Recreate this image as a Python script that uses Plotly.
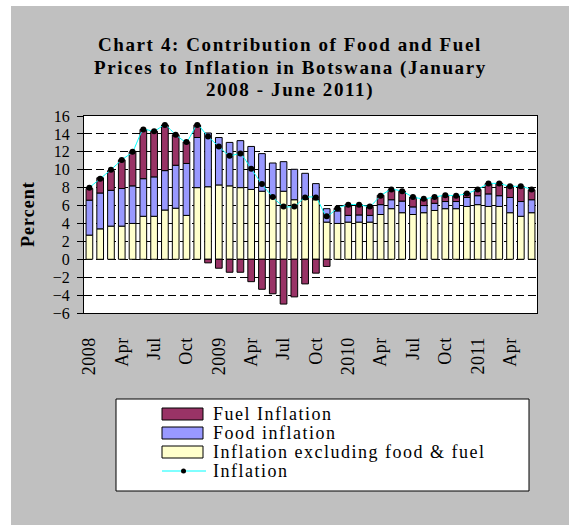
import plotly.graph_objects as go

# Monthly contributions (percentage points), January 2008 - June 2011
months = [f"{m} {y}" for y in (2008, 2009, 2010, 2011)
          for m in ["Jan", "Feb", "Mar", "Apr", "May", "Jun",
                    "Jul", "Aug", "Sep", "Oct", "Nov", "Dec"]][:42]

core = [2.7, 3.4, 3.7, 3.7, 4.0, 4.8, 4.8, 5.5, 5.7, 4.9, 8.0, 8.1,
        8.3, 8.2, 8.0, 7.8, 7.6, 6.95, 7.6, 6.65, 6.7, 6.65, 4.15, 4.0,
        4.15, 4.15, 4.15, 5.0, 5.65, 5.2, 5.0, 5.2, 5.45, 5.65, 5.65, 5.9,
        6.1, 5.9, 5.9, 5.2, 4.8, 5.2]

food = [3.9, 4.0, 4.0, 4.2, 4.2, 4.2, 4.4, 4.4, 4.8, 5.8, 5.6, 6.0,
        5.3, 4.85, 5.25, 4.8, 4.2, 3.8, 3.3, 3.4, 2.9, 1.8, 1.5, 1.4,
        0.75, 0.8, 0.75, 1.1, 1.0, 1.3, 0.85, 0.8, 0.8, 0.8, 0.8, 1.0,
        1.0, 1.4, 1.2, 1.7, 1.65, 1.45]

fuel = [1.3, 1.7, 2.2, 3.2, 3.8, 5.5, 5.1, 5.1, 3.4, 2.4, 1.4, -0.4,
        -1.0, -1.45, -1.45, -2.5, -3.35, -3.85, -5.0, -4.2, -2.75, -1.55, -0.8, 0.3,
        1.2, 1.15, 1.0, 1.05, 1.1, 1.1, 1.1, 0.75, 0.7, 0.7, 0.65, 0.5,
        0.7, 1.15, 1.4, 1.3, 1.7, 1.1]

inflation = [8.0, 9.0, 10.0, 11.1, 12.0, 14.5, 14.3, 15.0, 13.9, 13.1, 15.0, 13.7,
             12.6, 11.55, 11.8, 10.1, 8.4, 6.95, 5.9, 5.9, 6.9, 6.9, 4.8, 5.7,
             6.1, 6.1, 5.9, 7.1, 7.8, 7.6, 6.95, 6.75, 6.95, 7.15, 7.1, 7.35,
             7.8, 8.45, 8.45, 8.15, 8.15, 7.8]

tick_months = months[::3]
tick_text = ["2008", "Apr", "Jul", "Oct", "2009", "Apr", "Jul", "Oct",
             "2010", "Apr", "Jul", "Oct", "2011", "Apr"]

title_lines = ["Chart 4: Contribution of Food and Fuel",
               "Prices to Inflation in Botswana (January",
               "2008 - June 2011)"]

series_names = ["Fuel Inflation", "Food inflation",
                "Inflation excluding food & fuel", "Inflation"]
fuel_col, food_col, core_col = "#993366", "#9999FF", "#FFFFCC"
line_col = "#00FFFF"

W, H = 569, 525
L, R, T, B = 84, 32, 116, 212
PW, PH = W - L - R, H - T - B
YMIN, YMAX = -6, 16
SERIF = "Liberation Serif, Times New Roman, serif"


def px_x(x):
    return (x - L) / PW


def px_y(y):
    return (H - B - y) / PH


def spaced(text, px):
    return f'<span style="letter-spacing:{px}px">{text}</span>'


fig = go.Figure()
bar_line = dict(color="black", width=1)
fig.add_bar(x=months, y=core, name=series_names[2],
            marker=dict(color=core_col, line=bar_line))
fig.add_bar(x=months, y=food, name=series_names[1],
            marker=dict(color=food_col, line=bar_line))
fig.add_bar(x=months, y=fuel, name=series_names[0],
            marker=dict(color=fuel_col, line=bar_line))
fig.add_scatter(x=months, y=inflation, name=series_names[3], mode="lines+markers",
                line=dict(color=line_col, width=1, shape="spline", smoothing=0.5),
                marker=dict(color="black", size=6))

# Category axis crossing at zero: solid line with boundary ticks
zero_pos = (0 - YMIN) / (YMAX - YMIN)
fig.update_layout(
    xaxis2=dict(overlaying="x", anchor="free", position=zero_pos, side="bottom",
                range=[-0.5, len(months) - 0.5], showgrid=False, zeroline=False,
                showline=True, linecolor="black", linewidth=1,
                ticks="outside", ticklen=6, tickcolor="black", tickwidth=1,
                tickvals=[i - 0.5 for i in range(len(months) + 1)],
                showticklabels=False),
)

fig.update_layout(
    width=W, height=H,
    margin=dict(l=L, r=R, t=T, b=B, pad=0),
    paper_bgcolor="#C0C0C0", plot_bgcolor="white",
    barmode="relative", bargap=0.38,
    showlegend=False,
    font=dict(family=SERIF, size=18, color="black"),
    xaxis=dict(type="category", categoryorder="array", categoryarray=months,
               range=[-0.5, len(months) - 0.5],
               tickmode="array", tickvals=tick_months,
               ticktext=[spaced(t, 0.5) for t in tick_text],
               tickangle=-90, ticks="outside", ticklen=16,
               tickcolor="rgba(0,0,0,0)",
               showline=True, linecolor="black", linewidth=1, mirror=True,
               showgrid=False, zeroline=False,
               tickfont=dict(family=SERIF, size=18)),
    yaxis=dict(range=[YMIN, YMAX], tickmode="linear", tick0=-6, dtick=2,
               ticks="outside", ticklen=6, tickcolor="black",
               ticklabelstandoff=4,
               showline=True, linecolor="black", linewidth=1, mirror=True,
               showgrid=True, gridcolor="black", gridwidth=1,
               griddash="8px,4px", zeroline=False,
               tickfont=dict(family=SERIF, size=16)),
)

shapes = [
    # white margin strips outside the chart frame
    dict(type="rect", xref="paper", yref="paper", x0=px_x(0), x1=px_x(11),
         y0=px_y(H), y1=px_y(0), fillcolor="white", line_width=0, layer="above"),
    dict(type="rect", xref="paper", yref="paper", x0=px_x(0), x1=px_x(W),
         y0=px_y(6), y1=px_y(0), fillcolor="white", line_width=0, layer="above"),
    # legend box
    dict(type="rect", xref="paper", yref="paper", x0=px_x(116), x1=px_x(529),
         y0=px_y(491), y1=px_y(399), fillcolor="white",
         line=dict(color="black", width=1), layer="above"),
]

annotations = [
    dict(text="<b>" + spaced("Percent", 1) + "</b>", xref="paper", yref="paper",
         x=px_x(28), y=px_y(214), xanchor="center", yanchor="middle",
         textangle=-90, showarrow=False, font=dict(family=SERIF, size=18)),
]

# chart title, one annotation per line
for k, line in enumerate(title_lines):
    annotations.append(dict(text="<b>" + spaced(line, 1.6) + "</b>",
                            xref="paper", yref="paper",
                            x=px_x(290), y=px_y(45 + 22.5 * k),
                            xanchor="center", yanchor="middle", showarrow=False,
                            font=dict(family=SERIF, size=19)))

# legend rows: swatch + label
legend_rows = [(series_names[0], fuel_col), (series_names[1], food_col),
               (series_names[2], core_col), (series_names[3], None)]
for k, (name, col) in enumerate(legend_rows):
    yc = 414 + 19 * k
    if col is not None:
        shapes.append(dict(type="rect", xref="paper", yref="paper",
                           x0=px_x(162), x1=px_x(203),
                           y0=px_y(yc + 6), y1=px_y(yc - 6), fillcolor=col,
                           line=dict(color="black", width=1), layer="above"))
    else:
        shapes.append(dict(type="line", xref="paper", yref="paper",
                           x0=px_x(162), x1=px_x(206), y0=px_y(yc), y1=px_y(yc),
                           line=dict(color=line_col, width=1), layer="above"))
        shapes.append(dict(type="circle", xref="paper", yref="paper",
                           x0=px_x(181), x1=px_x(186),
                           y0=px_y(yc + 2.5), y1=px_y(yc - 2.5),
                           fillcolor="black", line_width=0, layer="above"))
    annotations.append(dict(text=spaced(name, 1.5), xref="paper", yref="paper",
                            x=px_x(211), y=px_y(yc), xanchor="left",
                            yanchor="middle", showarrow=False,
                            font=dict(family=SERIF, size=18)))

fig.update_layout(shapes=shapes, annotations=annotations)
fig.write_html("out.html")
